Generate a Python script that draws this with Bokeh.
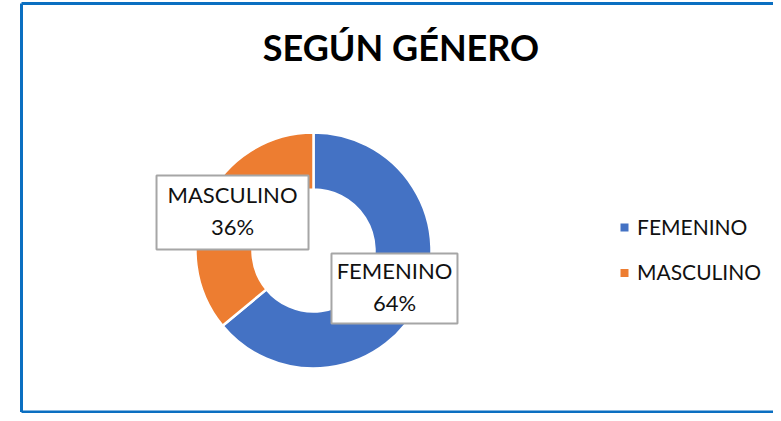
import math
from bokeh.plotting import figure
from bokeh.models import Range1d, ColumnDataSource
from bokeh.core.properties import value
from bokeh.embed import file_html
from bokeh.resources import INLINE

# ---- data ----
categories = ["FEMENINO", "MASCULINO"]
values = [64, 36]
title_text = "SEGÚN GÉNERO"

# ---- style ----
colors = ["#4472C4", "#ED7D31"]
FONT = "Lato"
W, H = 773, 413

def py(img_y):
    # image y (down) -> data y (up)
    return H - img_y

p = figure(width=W, height=H, output_backend="svg", toolbar_location=None,
           x_range=Range1d(0, W), y_range=Range1d(0, H),
           min_border=0, background_fill_color="white", border_fill_color="white")
p.axis.visible = False
p.grid.visible = False
p.outline_line_color = None

# chart border (left, top, bottom)
bc = "#0B6FC1"
p.line([21, 21], [py(411.5), py(3)], line_color=bc, line_width=3)
p.line([21, W], [py(3), py(3)], line_color=bc, line_width=3)
p.line([21, W], [py(411.5), py(411.5)], line_color=bc, line_width=3)

# title
p.text(x=[400.5], y=[py(46)], text=[title_text], text_font=value(FONT),
       text_font_style="bold", text_font_size="36px", text_align="center",
       text_baseline="middle", text_color="#000000")

# donut
cx, cy = 313, py(250)
r_out, r_in = 118, 61
total = sum(values)
starts, ends, mids = [], [], []
a = math.pi / 2
for v in values:
    sweep = 2 * math.pi * v / total
    starts.append(a)
    ends.append(a - sweep)
    mids.append(a - sweep / 2)
    a -= sweep

src = ColumnDataSource(dict(cat=categories, val=values, start=starts, end=ends,
                            color=colors))
p.annular_wedge(x=cx, y=cy, inner_radius=r_in, outer_radius=r_out,
                start_angle="start", end_angle="end", direction="clock",
                fill_color="color", line_color="white", line_width=2.5,
                source=src)

# data labels at mid radius / mid angle
r_mid = (r_out + r_in) / 2
box_w = [126, 152]
box_h = [70, 74]
lx = [cx + r_mid * math.cos(m) for m in mids]
ly = [cy + r_mid * math.sin(m) for m in mids]
p.rect(x=lx, y=ly, width=box_w, height=box_h, fill_color="white",
       line_color="#A6A6A6", line_width=2)
p.text(x=lx, y=[y + 18 for y in ly], text=categories, text_font=value(FONT),
       text_font_size="22px", text_align="center", text_baseline="middle",
       text_color="#111111")
p.text(x=lx, y=[y - 14 for y in ly], text=[f"{v}%" for v in values],
       text_font=value(FONT), text_font_size="22px", text_align="center",
       text_baseline="middle", text_color="#111111")

# legend
leg_x = 624
leg_y0 = py(227)
leg_dy = 45.5
leg_y = [leg_y0 - i * leg_dy for i in range(len(categories))]
p.rect(x=[leg_x] * len(categories), y=leg_y, width=8, height=8,
       fill_color=colors, line_color=None)
p.text(x=[leg_x + 12.5] * len(categories), y=[y + 1.5 for y in leg_y],
       text=categories, text_font=value(FONT), text_font_size="21px",
       text_align="left", text_baseline="middle", text_color="#111111")

open("out.html", "w").write(file_html(p, INLINE))
